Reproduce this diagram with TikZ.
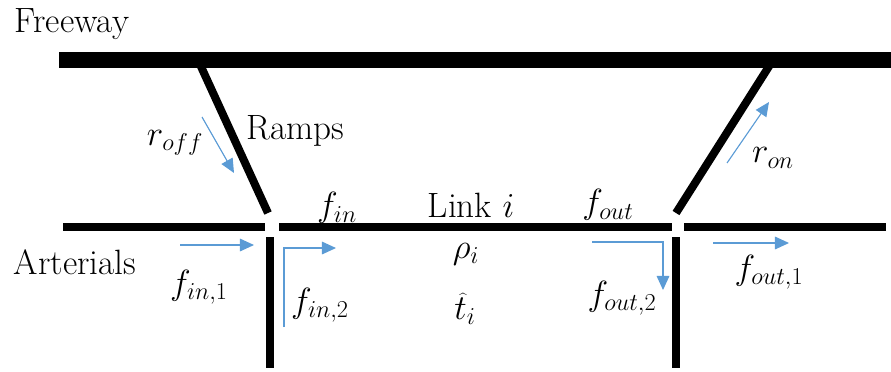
\documentclass[tikz,border=0pt]{standalone}
\usetikzlibrary{arrows.meta}
\definecolor{flowblue}{RGB}{91,155,213}
\tikzset{
  highway/.style={line width=11.4pt},
  street/.style={line width=5.7pt},
  flow/.style={flowblue, line width=.8pt, -{Triangle[length=10pt,width=9pt]}},
  lbl/.style={font=\fontsize{25}{28}\selectfont, inner sep=0pt},
  sym/.style={font=\fontsize{25}{28}\selectfont, inner sep=0pt}
}
\begin{document}
\begin{tikzpicture}[x=.025cm,y=-.025cm]
  \useasboundingbox (0,0) rectangle (891,371);
  % road ends
  \coordinate (fwL) at (59,60);   \coordinate (fwR) at (891,60);
  \coordinate (offT) at (198,60); \coordinate (offB) at (268,213);
  \coordinate (onT) at (773,60);  \coordinate (onB) at (676,213);
  \draw[street] (offT) -- (offB);
  \draw[street] (onT) -- (onB);
  \draw[highway] (fwL) -- (fwR);
  \draw[street] (63,227) -- (265,227);
  \draw[street] (279,227) -- (672,227);
  \draw[street] (684,227) -- (886,227);
  \draw[street] (270,237) -- (270,368);
  \draw[street] (676,237) -- (676,368);
  % flows
  \coordinate (roffA) at (202,117); \coordinate (roffB) at (234,173);
  \coordinate (ronA) at (727,163);  \coordinate (ronB) at (769,102);
  \coordinate (in1A) at (180,245);  \coordinate (in1B) at (254,245);
  \coordinate (in2A) at (284,327);  \coordinate (in2B) at (336,248);
  \coordinate (outA) at (592,242);  \coordinate (outB) at (663,290);
  \coordinate (out1A) at (713,243); \coordinate (out1B) at (789,243);
  \draw[flow] (roffA) -- (roffB);
  \draw[flow] (ronA) -- (ronB);
  \draw[flow] (in1A) -- (in1B);
  \draw[flow] (in2A) |- (in2B);
  \draw[flow] (outA) -| (outB);
  \draw[flow] (out1A) -- (out1B);
  % labels
  \node[lbl] (freeway) at (72,24) {Freeway};
  \node[lbl] (ramps) at (295,131) {Ramps};
  \node[lbl] (arterials) at (75,262) {Arterials};
  \node[lbl] (link) at (471,205) {Link $i$};
  \node[sym] (roff) at (175,143) {$r_{off}$};
  \node[sym] (ron) at (773,158) {$r_{on}$};
  \node[sym] (fin) at (337,208) {$f_{in}$};
  \node[sym] (fout) at (608,205) {$f_{out}$};
  \node[sym] (fin1) at (199,287) {$f_{in,1}$};
  \node[sym] (fin2) at (320,305) {$f_{in,2}$};
  \node[sym] (rho) at (466,254) {$\rho_i$};
  \node[sym] (tt) at (465,309) {$\widehat{t}_i$};
  \node[sym] (fout2) at (622,298) {$f_{out,2}$};
  \node[sym] (fout1) at (769,272) {$f_{out,1}$};
\end{tikzpicture}
\end{document}
